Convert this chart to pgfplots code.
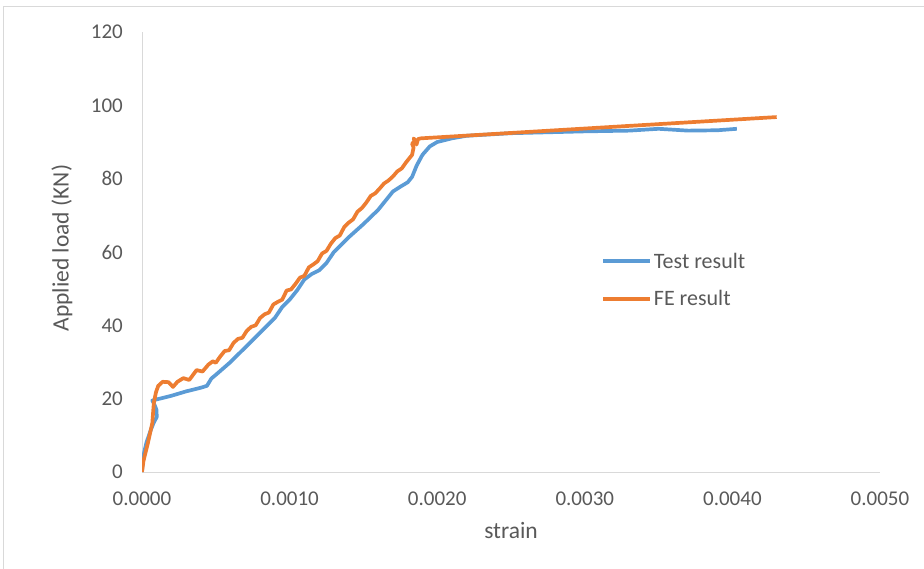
\documentclass[border=0pt]{standalone}
\usepackage{pgfplots}
\pgfplotsset{compat=1.18}
\usepackage{fontspec}
\setmainfont{Carlito}
\definecolor{testblue}{HTML}{5B9BD5}
\definecolor{feorange}{HTML}{ED7D31}
\definecolor{axisgray}{HTML}{D9D9D9}
\definecolor{txtgray}{HTML}{595959}
\begin{document}
\begin{tikzpicture}
\useasboundingbox (0pt,0pt) rectangle (924pt,568pt);
\draw[axisgray, line width=1pt] (3pt,-2pt) -- (3pt,561pt) -- (926pt,561pt);
\begin{axis}[
  at={(142pt,96pt)}, anchor=south west,
  scale only axis, width=738pt, height=440pt,
  xmin=0, xmax=0.005, ymin=0, ymax=120,
  xtick={0,0.001,0.002,0.003,0.004,0.005},
  ytick={0,20,40,60,80,100,120},
  scaled x ticks=false,
  xticklabel style={/pgf/number format/fixed, /pgf/number format/fixed zerofill, /pgf/number format/precision=4},
  /pgf/number format/assume math mode=true,
  axis lines=left,
  axis line style={draw=axisgray, line width=1pt, -},
  major tick length=0pt,
  tick label style={font=\fontsize{21}{25}\selectfont, text=txtgray, inner sep=0pt},
  yticklabel style={anchor=east, xshift=-19pt},
  xticklabel style={anchor=north, yshift=-19.5pt},
  xlabel={strain}, ylabel={Applied load (KN)},
  every axis x label/.style={at={(axis description cs:0.5,-0.134)}, anchor=center,
    font=\fontsize{23.5}{28}\selectfont, text=txtgray},
  every axis y label/.style={at={(axis description cs:-0.1084,0.509)}, rotate=90, anchor=center,
    font=\fontsize{23.5}{28}\selectfont, text=txtgray},
  legend style={at={(axis description cs:0.622,0.503)}, anchor=north west, draw=none, fill=none,
    font=\fontsize{22}{26}\selectfont, text=txtgray, row sep=17pt, inner sep=0pt,
    /tikz/every even column/.append style={column sep=6pt}},
  legend cell align=left,
  legend image code/.code={\draw[#1] (0pt,0pt) -- (47pt,0pt);},
  every axis plot/.append style={line join=round},
]
\addplot[testblue, line width=3.7pt] coordinates {
(0,0) (0.000007,4) (0.00003,8) (0.00006,11.5) (0.00008,13.5) (0.0001,15)
(0.000098,17) (0.00008,18.8) (0.00007,19.5) (0.0001,19.8) (0.0002,20.8)
(0.0003,22) (0.0004,23) (0.00044,23.5) (0.00047,25.5) (0.0005,26.5)
(0.0006,30) (0.0007,34) (0.0008,38) (0.0009,42) (0.00095,45) (0.001,47)
(0.00105,49.5) (0.0011,52.5) (0.00115,54) (0.0012,55) (0.00125,57)
(0.0013,60) (0.0014,64) (0.0015,67.6) (0.0016,71.5) (0.00167,75)
(0.0017,76.5) (0.00175,77.8) (0.0018,79) (0.00183,80.5) (0.00186,83.5)
(0.0019,86.5) (0.00195,88.8) (0.002,90) (0.0021,91) (0.0022,91.7)
(0.0025,92.4) (0.003,92.9) (0.0033,93.1) (0.0035,93.6) (0.0037,93.1)
(0.0039,93.2) (0.00403,93.6)
};
\addlegendentry{Test result}
\addplot[feorange, line width=3.7pt] coordinates {
(0,0) (0.00001,3) (0.00004,7.9) (0.00007,13.4) (0.00008,18.8) (0.000095,21.8)
(0.00011,23.5) (0.00014,24.6) (0.00018,24.5) (0.00021,23.2) (0.00024,24.6)
(0.00028,25.6) (0.00032,25.1) (0.00037,27.8) (0.00041,27.4) (0.00045,29.3)
(0.00048,30.2) (0.0005,29.8) (0.00053,31.5) (0.00056,33) (0.00059,33.2)
(0.00062,35.2) (0.00065,36.3) (0.00068,36.6) (0.00071,38.5) (0.00074,39.6)
(0.00077,40) (0.0008,42) (0.00083,43) (0.00086,43.5) (0.00089,45.7)
(0.00092,46.4) (0.00095,47) (0.00098,49.5) (0.00101,49.8) (0.00104,51.3)
(0.00107,53) (0.0011,53.5) (0.00113,55.8) (0.00116,56.6) (0.00119,57.5)
(0.00122,59.6) (0.00125,60.3) (0.00128,62.3) (0.00131,63.8) (0.00134,64.5)
(0.00137,66.8) (0.0014,68) (0.00143,68.9) (0.00146,71) (0.00149,72)
(0.00152,73.5) (0.00155,75.3) (0.00158,76) (0.00161,77.3) (0.00164,78.7)
(0.00167,79.5) (0.0017,80.6) (0.00173,82) (0.00176,82.8) (0.00179,84.5)
(0.00181,85.5) (0.00183,86.5) (0.00184,88.5) (0.00183,89.5) (0.00185,90.5)
(0.00184,91) (0.00186,89.3) (0.00187,90.8) (0.00189,91) (0.0043,96.8)
};
\addlegendentry{FE result}
\end{axis}
\end{tikzpicture}
\end{document}
